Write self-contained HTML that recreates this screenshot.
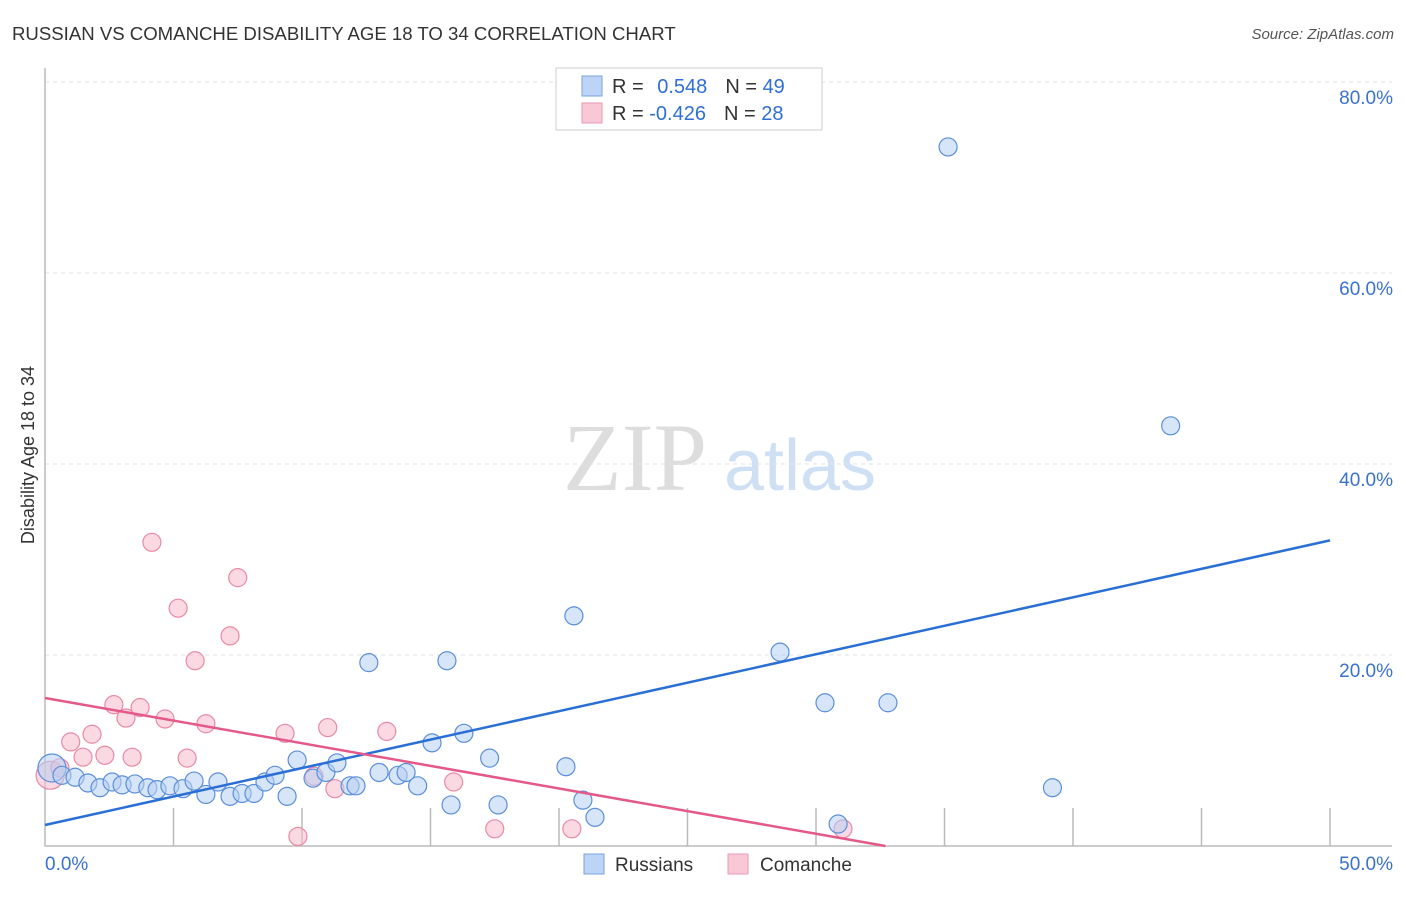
<!DOCTYPE html>
<html><head><meta charset="utf-8"><style>
body{margin:0;background:#fff;font-family:"Liberation Sans",sans-serif}
</style></head><body>
<svg width="1406" height="892" xmlns="http://www.w3.org/2000/svg" font-family="Liberation Sans, sans-serif">
<text x="12" y="40" font-size="18.6" fill="#333">RUSSIAN VS COMANCHE DISABILITY AGE 18 TO 34 CORRELATION CHART</text>
<text x="1394" y="39" font-size="15" fill="#555" font-style="italic" text-anchor="end">Source: ZipAtlas.com</text>
<g>
<text x="635" y="490" font-size="96" fill="#ddd" font-family="Liberation Serif, serif" text-anchor="middle">ZIP</text>
<text x="800" y="490" font-size="72" fill="#cfe0f5" text-anchor="middle">atlas</text>
</g>
<g id="grid"></g><g id="axes"></g><g id="marks"></g>
<text transform="translate(34,455) rotate(-90)" font-size="18" fill="#333" text-anchor="middle">Disability Age 18 to 34</text>
<g>
<rect x="556" y="68" width="266" height="62" fill="#fff" stroke="#ccc"/>
<rect x="582" y="76" width="20" height="20" fill="#bcd4f5" stroke="#7aa3e0"/>
<rect x="582" y="103" width="20" height="20" fill="#f9c8d6" stroke="#e99ab2"/>
<text x="612" y="93" font-size="20" fill="#333">R = <tspan fill="#2f6fd6" dx="8">0.548</tspan><tspan dx="18" fill="#333">N = </tspan><tspan fill="#2f6fd6">49</tspan></text>
<text x="612" y="120" font-size="20" fill="#333">R = <tspan fill="#2f6fd6">-0.426</tspan><tspan dx="18" fill="#333">N = </tspan><tspan fill="#2f6fd6">28</tspan></text>
</g>
<g>
<rect x="584" y="854" width="20" height="20" fill="#bcd4f5" stroke="#7aa3e0"/>
<text x="615" y="871" font-size="19" fill="#333">Russians</text>
<rect x="728" y="854" width="20" height="20" fill="#f9c8d6" stroke="#e99ab2"/>
<text x="760" y="871" font-size="19" fill="#333">Comanche</text>
</g>
</svg>
<script>
const yTicks=[20,40,60,80];
const yTickLabels=["20.0%","40.0%","60.0%","80.0%"];
const xTickLabels=["0.0%","50.0%"];
const rusX=[0.27,0.66,1.17,1.67,2.14,2.61,3.0,3.5,4.0,4.36,4.86,5.37,5.8,6.26,6.73,7.2,7.67,8.13,8.56,8.95,9.42,9.81,10.43,10.93,11.36,11.87,12.1,12.6,13.0,13.74,14.05,14.5,15.06,15.8,15.64,16.3,17.3,17.63,20.27,20.58,20.93,21.4,28.6,30.35,30.86,32.8,35.14,39.2,43.8];
const rusY=[8.17,7.4,7.2,6.6,6.1,6.7,6.4,6.5,6.1,5.9,6.3,6.0,6.8,5.4,6.7,5.2,5.5,5.5,6.7,7.4,5.2,9.0,7.1,7.7,8.7,6.3,6.3,19.2,7.7,7.4,7.7,6.3,10.8,4.3,19.4,11.8,9.2,4.3,8.3,24.1,4.8,3.0,20.3,15.0,2.3,15.0,73.2,6.1,44.0];
const comX=[0.2,0.58,1.0,1.48,1.83,2.33,2.68,3.15,3.39,3.7,4.16,4.67,5.18,5.53,5.84,6.26,7.2,7.5,9.34,9.84,10.47,11.0,11.28,13.3,15.9,17.5,20.5,31.05];
const comY=[7.4,8.2,10.9,9.3,11.7,9.5,14.8,13.4,9.3,14.5,31.8,13.3,24.9,9.2,19.4,12.8,22.0,28.1,11.8,1.0,7.3,12.4,6.0,12.0,6.7,1.8,1.8,1.8];
const rusTrend=[2.2,32.0];   // y at x=0 and x=50
const comTrend=[15.5,-0.474]; // intercept, slope
const NS="http://www.w3.org/2000/svg";
const X=v=>45+v/50*1285, Y=v=>846-v*9.55;
function mk(p,t,a){const e=document.createElementNS(NS,t);for(const k in a)e.setAttribute(k,a[k]);p.appendChild(e);return e;}
const grid=document.getElementById('grid'),axes=document.getElementById('axes'),marks=document.getElementById('marks');
yTicks.forEach((t,i)=>{
 const l=mk(grid,'line',{x1:45,x2:1392,y1:Y(t),y2:Y(t),stroke:'#e2e2e2','stroke-dasharray':'4,4'});
 
 
 const tx=mk(axes,'text',{x:1393,y:Y(t)+22,'font-size':19,fill:'#3a72d0','text-anchor':'end'});
 tx.textContent=yTickLabels[i];
 
 
});
const ax=mk(axes,'path',{d:'M45,68 V846 H1392',fill:'none',stroke:'#bbb','stroke-width':1.5});


for(let i=1;i<=10;i++){const t=mk(axes,'line',{x1:X(i*5),x2:X(i*5),y1:808,y2:846,stroke:'#bbb','stroke-width':1.5});
 
 }
[[0,'start',45],[50,'end',1393]].forEach((d,i)=>{const t=mk(axes,'text',{x:d[2],y:870,'font-size':19,fill:'#3a72d0','text-anchor':d[1]});t.textContent=xTickLabels[i];
 
 });
function dots(xs,ys,fill,stroke,name){xs.forEach((x,i)=>{const c=mk(marks,'circle',{cx:X(x),cy:Y(ys[i]),r:i==0?14:9,fill:fill,'fill-opacity':0.55,stroke:stroke,'stroke-width':1.2});
 
 });}
dots(comX,comY,'#f7b9cb','#e88aa8','comanche-point');
dots(rusX,rusY,'#b7d0f3','#5b8fdc','russian-point');
const l1=mk(marks,'line',{x1:X(0),y1:Y(rusTrend[0]),x2:X(50),y2:Y(rusTrend[1]),stroke:'#2a6fd6','stroke-width':2.5});


const xe=-comTrend[0]/comTrend[1];
const l2=mk(marks,'line',{x1:X(0),y1:Y(comTrend[0]),x2:X(xe),y2:Y(0),stroke:'#e5588a','stroke-width':2.5});


</script>
</body></html>
